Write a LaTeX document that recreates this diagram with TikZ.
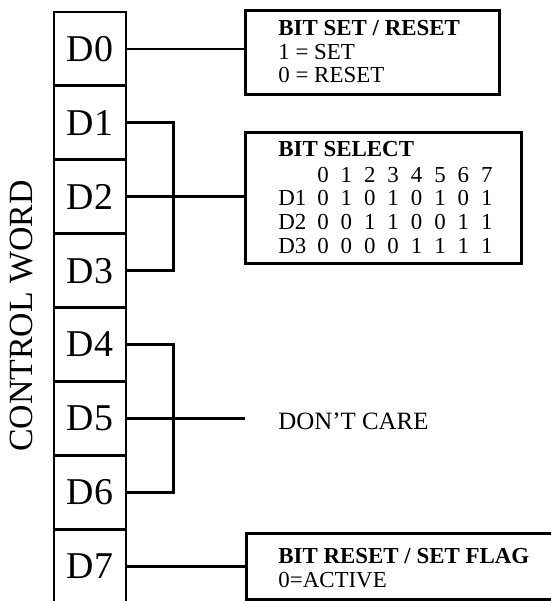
\documentclass[tikz,border=0pt]{standalone}
\usepackage{fontspec}
\setmainfont{Liberation Serif}
\begin{document}
\begin{tikzpicture}[x=1bp,y=-1bp, line width=2.8bp,
  cell/.style={draw, minimum width=72bp, minimum height=73.9bp, inner sep=0pt, font=\fontsize{38}{40}\selectfont},
  infobox/.style={draw, inner sep=0pt, anchor=north west},
  txt/.style={anchor=base west, inner sep=0pt, font=\fontsize{23}{24}\selectfont},
  btxt/.style={txt, font=\fontsize{23}{24}\selectfont\bfseries},
  dig/.style={anchor=base, inner sep=0pt, font=\fontsize{23}{24}\selectfont},
  wire/.style={line width=2.8bp}]
\useasboundingbox (0,0) rectangle (551,601);
\clip (0,0) rectangle (551,601);
% control word cells
\foreach \i in {0,...,7}
  \node[cell] (d\i) at (90,{12+73.9*\i+36.95}) {D\i};
\node[rotate=90, inner sep=0pt, font=\fontsize{34}{36}\selectfont] (cw) at (22,316) {CONTROL WORD};
% box 1
\node[infobox, minimum width=254bp, minimum height=84bp] (b1) at (244,9) {};
\node[btxt] (b1t) at (277,36) {BIT SET / RESET};
\node[txt] (b1a) at (277,60) {1 = SET};
\node[txt] (b1b) at (277,83) {0 = RESET};
% box 2
\node[infobox, minimum width=276bp, minimum height=131bp] (b2) at (244,131) {};
\node[btxt] (b2t) at (277,157) {BIT SELECT};
\foreach \j in {0,...,7}
  \node[dig] (h\j) at ({323+23.4*\j},182) {\j};
\node[txt] (r1) at (277,205) {D1};
\node[txt] (r2) at (277,229) {D2};
\node[txt] (r3) at (277,253) {D3};
\foreach \v [count=\j from 0] in {0,1,0,1,0,1,0,1}
  \node[dig] (ra\j) at ({323+23.4*\j},205) {\v};
\foreach \v [count=\j from 0] in {0,0,1,1,0,0,1,1}
  \node[dig] (rb\j) at ({323+23.4*\j},229) {\v};
\foreach \v [count=\j from 0] in {0,0,0,0,1,1,1,1}
  \node[dig] (rc\j) at ({323+23.4*\j},253) {\v};
% don't care
\coordinate (dcend) at (245,419);
\node[anchor=base west, inner sep=0pt, font=\fontsize{25}{26}\selectfont] (dc) at (277,429) {DON'T CARE};
% box 3
\node[infobox, minimum width=330bp, minimum height=66bp] (b3) at (245,532) {};
\node[btxt] (b3t) at (277,563) {BIT RESET / SET FLAG};
\node[txt] (b3a) at (277,587) {0=ACTIVE};
% connectors
\draw[wire] (d0.east) -- (d0.east -| b1.west);
\draw[wire] (d1.east) -- ++(46,0) |- (d3.east);
\draw[wire] (d2.east) -- (d2.east -| b2.west);
\draw[wire] (d4.east) -- ++(46,0) |- (d6.east);
\draw[wire] (d5.east) -- (d5.east -| dcend);
\draw[wire] (d7.east) -- (d7.east -| b3.west);
\end{tikzpicture}
\end{document}
